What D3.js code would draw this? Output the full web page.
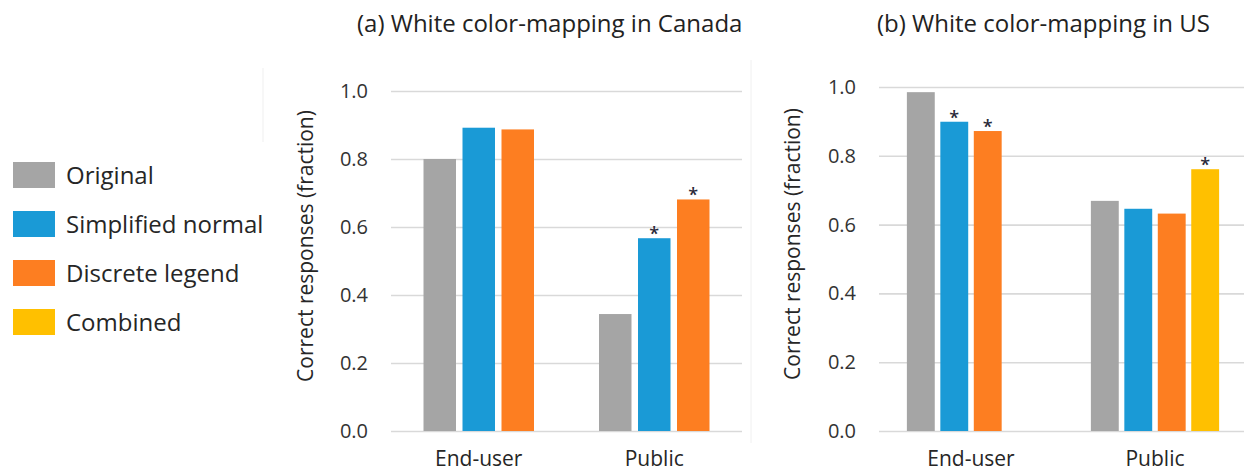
<!DOCTYPE html>
<html>
<head>
<meta charset="utf-8">
<script src="https://cdn.jsdelivr.net/npm/d3@7"></script>
<style>
  html, body { margin: 0; padding: 0; background: #fff; }
  svg { display: block; font-family: "Open Sans", "Noto Sans", sans-serif; }
</style>
</head>
<body>
<svg id="chart" width="1244" height="472"></svg>
<script>
// ---- data ----
const categories = ["End-user", "Public"];
const seriesNames = ["Original", "Simplified normal", "Discrete legend", "Combined"];
const seriesColors = ["#a5a5a5", "#1a9ad6", "#fd7e21", "#ffc000"];
const yTicks = [0, 0.2, 0.4, 0.6, 0.8, 1.0];

// Canada (panel a)
const canadaOriginal   = [0.800, 0.344];
const canadaSimplified = [0.892, 0.567];
const canadaDiscrete   = [0.887, 0.681];
const canadaSignif = { "Simplified normal": [false, true], "Discrete legend": [false, true] };

// US (panel b)
const usOriginal   = [0.985, 0.669];
const usSimplified = [0.899, 0.646];
const usDiscrete   = [0.872, 0.632];
const usCombined   = [null, 0.761];
const usSignif = { "Simplified normal": [true, false], "Discrete legend": [true, false], "Combined": [false, true] };

const titleA = "(a) White color-mapping in Canada";
const titleB = "(b) White color-mapping in US";
const yTitle = "Correct responses (fraction)";

const svg = d3.select("#chart");
const color = d3.scaleOrdinal().domain(seriesNames).range(seriesColors);

// faint frame remnants
svg.append("line").attr("x1", 263).attr("x2", 263).attr("y1", 68).attr("y2", 142)
  .attr("stroke", "#efefef").attr("stroke-width", 1);
svg.append("line").attr("x1", 751).attr("x2", 751).attr("y1", 60).attr("y2", 443)
  .attr("stroke", "#f0f0f0").attr("stroke-width", 1);

function panel(cfg) {
  const g = svg.append("g");
  const x = d3.scaleBand().domain(categories).range([cfg.x0, cfg.x1]).paddingInner(0).paddingOuter(0);
  // bar gap 20% of bar width, group gap 200% of bar width (split in halves)
  const xi = d3.scaleBand().domain(cfg.series.map(s => s.name))
    .range([0, x.bandwidth()])
    .paddingInner(0.2 / 1.2)
    .paddingOuter(1 / 1.2);
  const y = d3.scaleLinear().domain([0, 1]).range([cfg.y0, cfg.y1]);

  // grid + tick labels
  const axis = d3.axisLeft(y).tickValues(yTicks).tickFormat(d3.format(".1f"))
    .tickSizeInner(-(cfg.gridEnd - cfg.x0)).tickSizeOuter(0).tickPadding(23);
  const ag = g.append("g").attr("transform", `translate(${cfg.x0},0)`).call(axis);
  ag.select(".domain").remove();
  ag.selectAll(".tick line").attr("stroke", "#d9d9d9").attr("stroke-width", 1.6);
  ag.selectAll(".tick text").attr("fill", "#333").style("font-size", "20px")
    .style("font-family", "'Open Sans', sans-serif");

  // bars
  const rows = [];
  cfg.series.forEach(s => {
    s.values.forEach((v, i) => {
      if (v != null) rows.push({ name: s.name, cat: categories[i], v, sig: (cfg.signif[s.name] || [])[i] });
    });
  });
  g.selectAll("rect.bar").data(rows).enter().append("rect")
    .attr("class", "bar")
    .attr("x", d => x(d.cat) + xi(d.name))
    .attr("width", xi.bandwidth())
    .attr("y", d => y(d.v))
    .attr("height", d => y(0) - y(d.v))
    .attr("fill", d => color(d.name));

  // significance asterisks
  g.selectAll("text.sig").data(rows.filter(d => d.sig)).enter().append("text")
    .attr("class", "sig")
    .attr("x", d => x(d.cat) + xi(d.name) + xi.bandwidth() / 2)
    .attr("y", d => y(d.v) + 2)
    .attr("text-anchor", "middle")
    .attr("fill", "#2a2a3a")
    .style("font-size", "18px")
    .style("font-weight", "600")
    .text("*");

  // category labels
  g.selectAll("text.cat").data(categories).enter().append("text")
    .attr("class", "cat")
    .attr("x", d => x(d) + x.bandwidth() / 2)
    .attr("y", 466)
    .attr("text-anchor", "middle")
    .attr("fill", "#262626")
    .style("font-size", "21px")
    .text(d => d);

  // y axis title
  g.append("text")
    .attr("transform", `translate(${cfg.yTitleX},${cfg.yTitleY}) rotate(-90)`)
    .attr("text-anchor", "middle")
    .attr("fill", "#262626")
    .style("font-size", "21px")
    .text(yTitle);

  // panel title
  g.append("text")
    .attr("x", cfg.titleX).attr("y", 32)
    .attr("text-anchor", "start")
    .attr("fill", "#222")
    .style("font-size", "24px")
    .text(cfg.title);
}

panel({
  x0: 391, x1: 742, gridEnd: 742, y0: 431, y1: 91,
  series: [
    { name: "Original", values: canadaOriginal },
    { name: "Simplified normal", values: canadaSimplified },
    { name: "Discrete legend", values: canadaDiscrete }
  ],
  signif: canadaSignif,
  yTitleX: 313, yTitleY: 246,
  title: titleA, titleX: 357
});

panel({
  x0: 879, x1: 1247, gridEnd: 1247, y0: 431, y1: 87,
  series: [
    { name: "Original", values: usOriginal },
    { name: "Simplified normal", values: usSimplified },
    { name: "Discrete legend", values: usDiscrete },
    { name: "Combined", values: usCombined }
  ],
  signif: usSignif,
  yTitleX: 800, yTitleY: 244,
  title: titleB, titleX: 877
});

// legend
const leg = svg.append("g").selectAll("g").data(seriesNames).enter().append("g")
  .attr("transform", (d, i) => `translate(13,${162 + i * 49})`);
leg.append("rect").attr("width", 42).attr("height", 26).attr("fill", d => color(d));
leg.append("text").attr("x", 53).attr("y", 13).attr("dy", "0.36em")
  .attr("fill", "#262626").style("font-size", "24px").text(d => d);
</script>
</body>
</html>
